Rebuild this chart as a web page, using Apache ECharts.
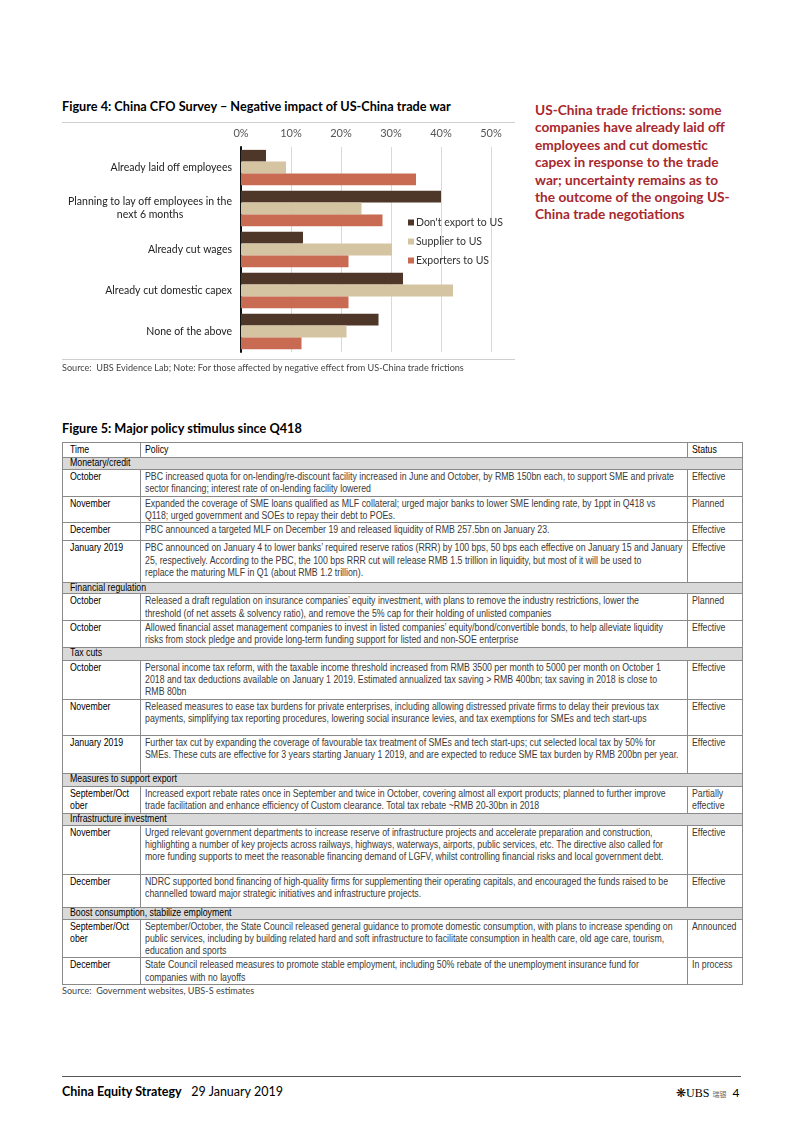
<!DOCTYPE html>
<html>
<head>
<meta charset="utf-8">
<script src="https://cdn.jsdelivr.net/npm/echarts@6/dist/echarts.min.js"></script>
<style>
  html, body { margin:0; padding:0; background:#fff; }
  body { width:802px; height:1133px; position:relative; overflow:hidden; font-family: Lato, "Open Sans", sans-serif; }
  .abs { position:absolute; white-space:nowrap; }
  .ftitle { font-weight:bold; font-size:12.7px; color:#000; }
  .hline { position:absolute; height:1px; background:#cfcfcf; }
  .src { font-size:9.1px; color:#444; }
  #red { left:535px; top:101px; font-weight:bold; font-size:13.7px; line-height:17.4px; color:#a8282e; }
  table.pol { position:absolute; left:62px; top:442px; width:680px; border-collapse:collapse; table-layout:fixed;
    font-family:"Liberation Sans", Arial, sans-serif; font-size:10.2px; line-height:12.2px; }
  table.pol td { border:1px solid #8a8a8a; vertical-align:top; padding:1px 0 0 4px; white-space:nowrap; color:#3a3a3a; overflow:hidden; }
  table.pol td.t { color:#000; padding-left:7px; }
  table.pol tr.sec td { background:#d9d9d9; color:#000; padding:0 0 0 7px; line-height:10px; }
  table.pol tr.hd td { color:#000; line-height:12.5px; }
  table.pol td span.s { display:inline-block; transform-origin:0 0; }
</style>
</head>
<body>
<div class="abs ftitle" style="left:62px; top:98px;">Figure 4: China CFO Survey – Negative impact of US-China trade war</div>
<div class="hline" style="left:62px; top:122px; width:453px;"></div>
<div id="chart" style="position:absolute; left:0; top:0; width:530px; height:380px;"></div>
<div class="hline" style="left:62px; top:359px; width:453px;"></div>
<div class="abs src" style="left:62px; top:362px;">Source:&nbsp; UBS Evidence Lab; Note: For those affected by negative effect from US-China trade frictions</div>

<div id="red" class="abs">US-China trade frictions: some<br>companies have already laid off<br>employees and cut domestic<br>capex in response to the trade<br>war; uncertainty remains as to<br>the outcome of the ongoing US-<br>China trade negotiations</div>

<div class="abs ftitle" style="left:62px; top:420px;">Figure 5: Major policy stimulus since Q418</div>

<table class="pol" id="pol">
<colgroup><col style="width:78px"><col style="width:547px"><col style="width:55px"></colgroup>
<tr class="hd" style="height:15px"><td class="t">Time</td><td>Policy</td><td>Status</td></tr>
<tr class="sec" style="height:12px"><td colspan="3">Monetary/credit</td></tr>
<tr style="height:27px"><td class="t">October</td><td id="probe">PBC increased quota for on-lending/re-discount facility increased in June and October, by RMB 150bn each, to support SME and private<br>sector financing; interest rate of on-lending facility lowered</td><td>Effective</td></tr>
<tr style="height:25px"><td class="t">November</td><td>Expanded the coverage of SME loans qualified as MLF collateral; urged major banks to lower SME lending rate, by 1ppt in Q418 vs<br>Q118; urged government and SOEs to repay their debt to POEs.</td><td>Planned</td></tr>
<tr style="height:18px"><td class="t">December</td><td>PBC announced a targeted MLF on December 19 and released liquidity of RMB 257.5bn on January 23.</td><td>Effective</td></tr>
<tr style="height:42px"><td class="t">January 2019</td><td>PBC announced on January 4 to lower banks’ required reserve ratios (RRR) by 100 bps, 50 bps each effective on January 15 and January<br>25, respectively. According to the PBC, the 100 bps RRR cut will release RMB 1.5 trillion in liquidity, but most of it will be used to<br>replace the maturing MLF in Q1 (about RMB 1.2 trillion).</td><td>Effective</td></tr>
<tr class="sec" style="height:11px"><td colspan="3">Financial regulation</td></tr>
<tr style="height:26px"><td class="t">October</td><td>Released a draft regulation on insurance companies’ equity investment, with plans to remove the industry restrictions, lower the<br>threshold (of net assets &amp; solvency ratio), and remove the 5% cap for their holding of unlisted companies</td><td>Planned</td></tr>
<tr style="height:27px"><td class="t">October</td><td>Allowed financial asset management companies to invest in listed companies’ equity/bond/convertible bonds, to help alleviate liquidity<br>risks from stock pledge and provide long-term funding support for listed and non-SOE enterprise</td><td>Effective</td></tr>
<tr class="sec" style="height:13px"><td colspan="3">Tax cuts</td></tr>
<tr style="height:39px"><td class="t">October</td><td>Personal income tax reform, with the taxable income threshold increased from RMB 3500 per month to 5000 per month on October 1<br>2018 and tax deductions available on January 1 2019. Estimated annualized tax saving &gt; RMB 400bn; tax saving in 2018 is close to<br>RMB 80bn</td><td>Effective</td></tr>
<tr style="height:36px"><td class="t">November</td><td>Released measures to ease tax burdens for private enterprises, including allowing distressed private firms to delay their previous tax<br>payments, simplifying tax reporting procedures, lowering social insurance levies, and tax exemptions for SMEs and tech start-ups</td><td>Effective</td></tr>
<tr style="height:38px"><td class="t">January 2019</td><td>Further tax cut by expanding the coverage of favourable tax treatment of SMEs and tech start-ups; cut selected local tax by 50% for<br>SMEs. These cuts are effective for 3 years starting January 1 2019, and are expected to reduce SME tax burden by RMB 200bn per year.</td><td>Effective</td></tr>
<tr class="sec" style="height:13px"><td colspan="3">Measures to support export</td></tr>
<tr style="height:27px"><td class="t">September/Oct<br>ober</td><td>Increased export rebate rates once in September and twice in October, covering almost all export products; planned to further improve<br>trade facilitation and enhance efficiency of Custom clearance. Total tax rebate ~RMB 20-30bn in 2018</td><td>Partially<br>effective</td></tr>
<tr class="sec" style="height:12px"><td colspan="3">Infrastructure investment</td></tr>
<tr style="height:49px"><td class="t">November</td><td>Urged relevant government departments to increase reserve of infrastructure projects and accelerate preparation and construction,<br>highlighting a number of key projects across railways, highways, waterways, airports, public services, etc. The directive also called for<br>more funding supports to meet the reasonable financing demand of LGFV, whilst controlling financial risks and local government debt.</td><td>Effective</td></tr>
<tr style="height:33px"><td class="t">December</td><td>NDRC supported bond financing of high-quality firms for supplementing their operating capitals, and encouraged the funds raised to be<br>channelled toward major strategic initiatives and infrastructure projects.</td><td>Effective</td></tr>
<tr class="sec" style="height:12px"><td colspan="3">Boost consumption, stabilize employment</td></tr>
<tr style="height:38px"><td class="t">September/Oct<br>ober</td><td>September/October, the State Council released general guidance to promote domestic consumption, with plans to increase spending on<br>public services, including by building related hard and soft infrastructure to facilitate consumption in health care, old age care, tourism,<br>education and sports</td><td>Announced</td></tr>
<tr style="height:27px"><td class="t">December</td><td>State Council released measures to promote stable employment, including 50% rebate of the unemployment insurance fund for<br>companies with no layoffs</td><td>In process</td></tr>
</table>
<div class="abs src" style="left:62px; top:985px;">Source:&nbsp; Government websites, UBS-S estimates</div>

<div class="abs" style="left:62px; top:1076px; width:679px; height:1px; background:#555;"></div>
<div class="abs" style="left:62px; top:1084px; font-size:12.5px; color:#000;"><b>China Equity Strategy</b>&nbsp;&nbsp; 29 January 2019</div>
<div class="abs" style="left:676px; top:1085px; font-size:12px; color:#000;"><span style="font-family:'Liberation Serif',serif;">&#10059;UBS</span> <span style="font-family:'Noto Sans CJK SC'; font-size:7px; color:#666;">瑞银</span>&nbsp; 4</div>

<script>
// condense table text to match the reference's narrow face
(function(){
  const cells = document.querySelectorAll('#pol td');
  cells.forEach(td => { td.innerHTML = '<span class="s">' + td.innerHTML + '</span>'; });
  const probe = document.querySelector('#probe span.s');
  const k = 529 / probe.getBoundingClientRect().width;
  document.querySelectorAll('#pol span.s').forEach(s => { s.style.transform = 'scaleX(' + k.toFixed(4) + ')'; });
})();

// ---- chart data ----
const categories = [
  'Already laid off employees',
  'Planning to lay off employees in the\nnext 6 months',
  'Already cut wages',
  'Already cut domestic capex',
  'None of the above'
];
const seriesNames = ["Don't export to US", 'Supplier to US', 'Exporters to US'];
const dontExport = [5.0, 40.0, 12.4, 32.4, 27.5];
const supplierToUS = [9.0, 24.1, 30.2, 42.4, 21.1];
const exportersToUS = [35.0, 28.3, 21.5, 21.5, 12.1];
const xMin = 0, xMax = 50, xStep = 10;

const colors = ['#4e3629', '#d5c4a1', '#c86b52'];
const chart = echarts.init(document.getElementById('chart'), null, {renderer: 'canvas'});
const values = [dontExport, supplierToUS, exportersToUS];
chart.setOption({
  animation: false,
  textStyle: { fontFamily: 'Lato, "Open Sans", sans-serif' },
  grid: { left: 241, top: 147, width: 250, height: 205 },
  legend: {
    orient: 'vertical', left: 403, top: 212, itemWidth: 6, itemHeight: 6, itemGap: 8,
    icon: 'rect', data: seriesNames,
    textStyle: { fontSize: 10.5, color: '#333', padding: [0,0,0,-3] }
  },
  xAxis: {
    type: 'value', position: 'top', min: xMin, max: xMax, interval: xStep,
    axisLine: { show: false }, axisTick: { show: false },
    splitLine: { lineStyle: { color: '#d9d9d9', width: 1 } },
    axisLabel: { formatter: '{value}%', color: '#555', fontSize: 11, margin: 8 }
  },
  yAxis: {
    type: 'category', inverse: true, data: categories,
    axisLine: { lineStyle: { color: '#111', width: 2 } },
    axisTick: { show: false },
    axisLabel: {
      margin: 9, color: '#222', fontSize: 10.5, lineHeight: 13,
      formatter: v => v.split('\n').map(s => '{c|' + s + '}').join('\n'),
      rich: { c: { align: 'center', fontSize: 10.5, color: '#222', lineHeight: 13 } }
    }
  },
  series: seriesNames.map((n, i) => ({
    name: n, type: 'bar', data: values[i], barGap: '0%', barCategoryGap: '14%',
    itemStyle: { color: colors[i] }
  }))
});
</script>
</body>
</html>
